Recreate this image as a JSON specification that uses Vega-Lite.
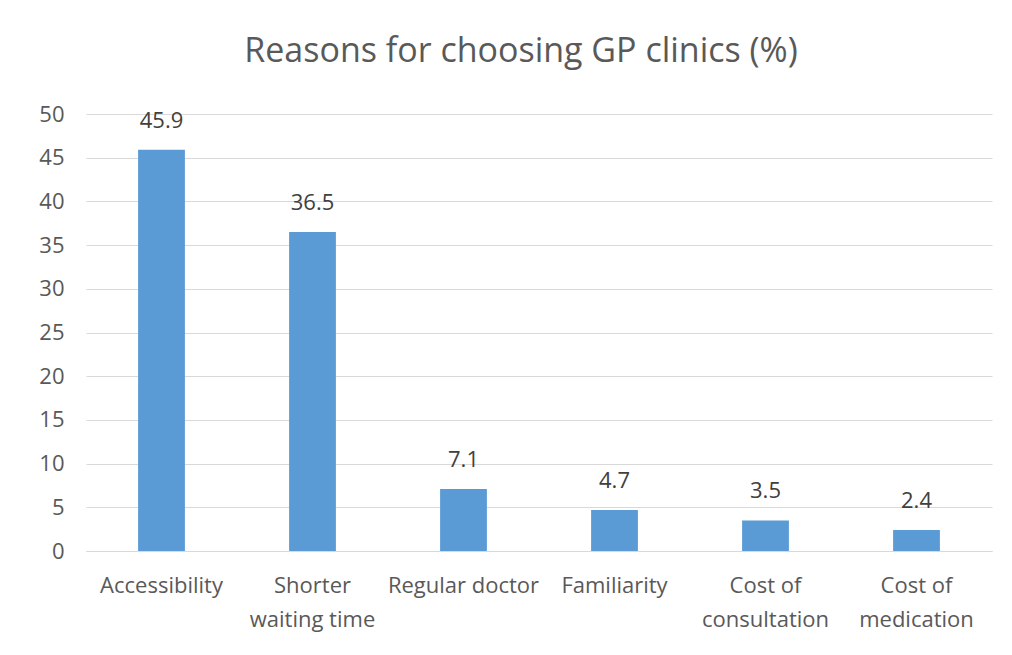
{
  "$schema": "https://vega.github.io/schema/vega-lite/v6.json",
  "autosize": {"type": "none"},
  "width": 906,
  "height": 437,
  "padding": {"left": 86, "top": 114, "right": 20, "bottom": 104},
  "background": "white",
  "title": {
    "text": "Reasons for choosing GP clinics (%)",
    "font": "Open Sans",
    "fontSize": 34,
    "fontWeight": "normal",
    "color": "#595959",
    "anchor": "middle",
    "dx": -18,
    "baseline": "alphabetic",
    "offset": 7
  },
  "config": {
    "view": {"stroke": null},
    "font": "Open Sans"
  },
  "data": {
    "values": [
      {"reason": "Accessibility", "pct": 45.9},
      {"reason": "Shorter|waiting time", "pct": 36.5},
      {"reason": "Regular doctor", "pct": 7.1},
      {"reason": "Familiarity", "pct": 4.7},
      {"reason": "Cost of|consultation", "pct": 3.5},
      {"reason": "Cost of|medication", "pct": 2.4}
    ]
  },
  "encoding": {
    "x": {
      "field": "reason",
      "type": "nominal",
      "sort": null,
      "scale": {"paddingInner": 0.69, "paddingOuter": 0.345},
      "axis": {
        "title": null,
        "labelAngle": 0,
        "labelExpr": "split(datum.label, '|')",
        "labelFont": "Open Sans",
        "labelFontSize": 22,
        "labelColor": "#595959",
        "labelLineHeight": 34,
        "labelPadding": 24,
        "labelBaseline": "top",
        "domain": true,
        "domainColor": "#d9d9d9",
        "ticks": false,
        "grid": false
      }
    },
    "y": {
      "field": "pct",
      "type": "quantitative",
      "scale": {"domain": [0, 50]},
      "axis": {
        "title": null,
        "values": [0, 5, 10, 15, 20, 25, 30, 35, 40, 45, 50],
        "labelFont": "Open Sans",
        "labelFontSize": 22,
        "labelColor": "#595959",
        "labelPadding": 22,
        "domain": false,
        "ticks": false,
        "grid": true,
        "gridColor": "#d9d9d9",
        "gridWidth": 1
      }
    }
  },
  "layer": [
    {"mark": {"type": "bar", "color": "#5B9BD5"}},
    {
      "mark": {
        "type": "text",
        "baseline": "alphabetic",
        "dy": -22,
        "font": "Open Sans",
        "fontSize": 22,
        "color": "#404040"
      },
      "encoding": {"text": {"field": "pct", "type": "quantitative", "format": ".1f"}}
    }
  ]
}
